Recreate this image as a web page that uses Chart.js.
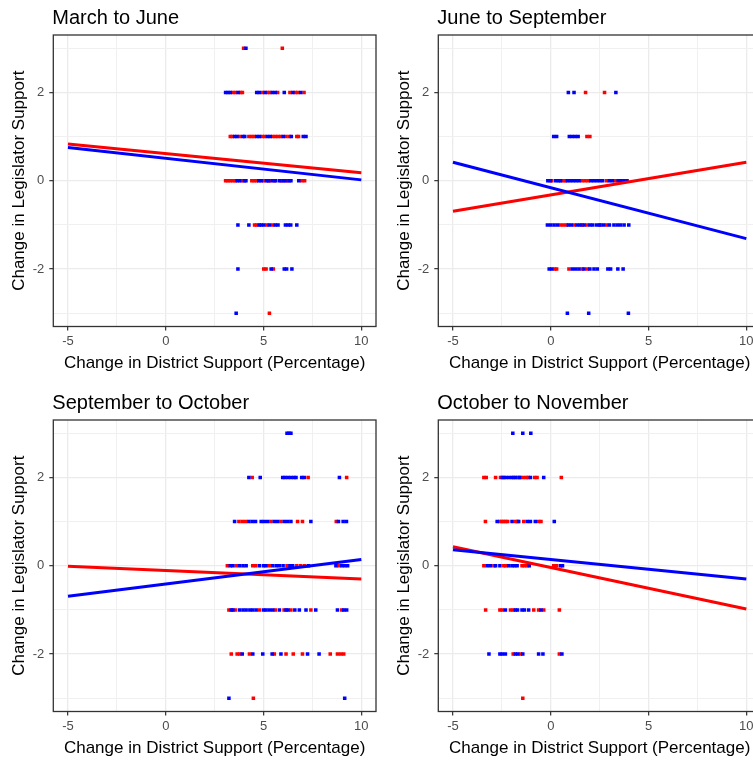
<!DOCTYPE html>
<html>
<head>
<meta charset="utf-8">
<script src="https://cdn.jsdelivr.net/npm/chart.js@4/dist/chart.umd.min.js"></script>
<style>
  html, body { margin: 0; padding: 0; background: #fff; overflow: hidden; width: 753px; height: 761px; }
  canvas { position: absolute; }
</style>
</head>
<body>
<canvas id="c1" width="380" height="380" style="left:0px;top:0px"></canvas>
<canvas id="c2" width="380" height="380" style="left:385px;top:0px"></canvas>
<canvas id="c3" width="380" height="380" style="left:0px;top:385px"></canvas>
<canvas id="c4" width="380" height="380" style="left:385px;top:385px"></canvas>
<script>
// rows of points, one list of x values per level of legislator change
const levels = [3, 2, 1, 0, -1, -2, -3];

const marJunRed = [
  [3.98, 5.96],
  [3.43, 3.57, 3.82, 3.92, 4.95, 5.2, 5.32, 5.72, 6.35, 6.62, 6.75, 7.07],
  [3.3, 3.4, 3.77, 4.25, 4.39, 4.52, 4.93, 5.06, 5.47, 5.61, 5.74, 5.88, 6.15, 6.32, 6.7, 6.79],
  [3.06, 3.18, 3.3, 3.43, 3.55, 3.9, 4.4, 4.52, 4.64, 5.0, 5.3, 5.55, 5.9, 6.2, 6.95, 7.1],
  [4.54, 4.65, 5.17, 5.47],
  [5.01, 5.13, 5.5],
  [5.3]
];
const marJunBlue = [
  [4.1],
  [3.06, 3.18, 3.3, 3.7, 4.65, 4.78, 5.08, 5.45, 5.6, 6.06, 6.5, 6.9],
  [3.52, 3.64, 3.94, 4.04, 4.66, 4.79, 5.2, 5.34, 6.01, 6.42, 7.03, 7.17],
  [3.65, 3.78, 4.02, 4.1, 4.76, 4.88, 5.15, 5.25, 5.44, 5.62, 5.82, 6.0, 6.1, 6.3, 6.4, 6.8],
  [3.69, 4.25, 4.78, 4.88, 5.01, 5.3, 5.6, 5.74, 6.12, 6.26, 6.39, 6.7],
  [3.69, 5.39, 6.06, 6.18, 6.45],
  [3.6]
];

const junSepRed = [
  [],
  [1.78, 2.75],
  [1.85, 2.0],
  [0.05, 0.62, 0.75, 1.6, 1.75, 1.9, 2.85, 3.3],
  [0.5, 0.65, 0.8, 1.2, 1.6, 1.85, 2.55, 2.85],
  [0.2, 0.3, 0.93, 1.6, 1.87],
  []
];
const junSepBlue = [
  [],
  [0.9, 1.19, 3.33],
  [0.15, 0.3, 0.95, 1.1, 1.25, 1.4],
  [-0.15, -0.02, 0.25, 0.4, 0.5, 0.85, 1.0, 1.15, 1.3, 1.45, 2.05, 2.2, 2.35, 2.5, 2.65, 3.0, 3.15, 3.45, 3.6, 3.75, 3.9],
  [-0.17, 0.0, 0.17, 0.34, 0.9, 1.05, 1.35, 1.5, 1.7, 2.0, 2.15, 2.35, 2.5, 2.7, 3.0, 3.23, 3.4, 3.57, 3.75, 3.99],
  [-0.08, 0.05, 1.1, 1.27, 1.44, 1.7, 2.0, 2.21, 2.38, 2.92, 3.06, 3.43, 3.7],
  [0.85, 1.94, 3.97]
];

const sepOctRed = [
  [],
  [4.42, 7.28, 9.25],
  [3.74, 3.91, 4.08, 5.38, 5.89, 6.74, 6.99, 8.72],
  [3.15, 3.6, 4.45, 4.6, 5.3, 6.2, 6.7, 6.9, 7.1, 8.85],
  [3.23, 3.55, 4.79, 5.6, 6.05, 6.4, 7.42, 9.0],
  [3.35, 3.65, 3.78, 4.28, 5.55, 6.15, 6.52, 6.99, 8.41, 8.78, 8.95, 9.1],
  [4.48]
];
const sepOctBlue = [
  [6.2, 6.3, 6.4],
  [4.25, 4.83, 5.98, 6.1, 6.25, 6.4, 6.55, 6.66, 6.95, 7.08, 8.88],
  [3.52, 4.25, 4.42, 4.59, 4.88, 5.04, 5.21, 5.55, 5.72, 6.06, 6.23, 6.4, 7.42, 8.83, 9.07, 9.24],
  [3.3, 3.43, 3.77, 3.95, 4.11, 4.79, 5.0, 5.13, 5.47, 5.65, 5.81, 6.0, 6.35, 6.49, 7.3, 8.7, 9.0, 9.15, 9.3],
  [3.35, 3.43, 3.77, 3.95, 4.11, 4.3, 4.45, 4.62, 5.0, 5.13, 5.3, 5.47, 5.81, 6.15, 6.25, 6.6, 6.83, 7.17, 7.67, 8.78, 9.1, 9.25],
  [3.91, 4.45, 4.96, 5.44, 5.89, 7.25, 7.84],
  [3.23, 9.15]
];

const octNovRed = [
  [],
  [-3.42, -3.3, -2.82, -2.57, -2.4, -1.7, -1.55, -1.4, -1.25, -1.15, -0.82, -0.7, 0.54],
  [-3.34, -2.6, -2.5, -2.4, -2.3, -2.2, -1.81, -1.7, -1.38, -0.62, -0.5],
  [-3.42, -2.9, -2.4, -2.3, -1.47, -1.35, -1.21, 0.15, 0.3],
  [-3.33, -2.6, -2.48, -2.06, -1.92, -0.87, -0.62, -0.36, 0.44],
  [-1.92, -1.55, 0.44],
  [-1.43]
];
const octNovBlue = [
  [-1.94, -1.43, -1.02],
  [-2.48, -2.3, -2.15, -2.0, -1.9, -1.8, -1.6, -1.04, -0.36],
  [-2.74, -1.98, -1.64, -1.2, -1.04, -0.79, 0.18],
  [-3.25, -3.08, -2.82, -2.6, -2.15, -1.98, -1.85, -1.72, -1.1, 0.5, 0.6],
  [-2.32, -1.81, -1.7, -1.47, -1.35, -1.13, -0.5],
  [-3.16, -2.6, -2.48, -2.32, -1.81, -1.69, -1.43, -0.62, -0.4, 0.57],
  []
];

// fitted lines: y at x = -5 and x = 10
const lineX = [-5, 10];
const marJunRedLine = [0.83, 0.18];
const marJunBlueLine = [0.755, 0.02];
const junSepRedLine = [-0.69, 0.42];
const junSepBlueLine = [0.42, -1.31];
const sepOctRedLine = [-0.01, -0.30];
const sepOctBlueLine = [-0.69, 0.14];
const octNovRedLine = [0.43, -0.98];
const octNovBlueLine = [0.36, -0.30];

const xMajor = [-5, 0, 5, 10];
const xMinor = [-2.5, 2.5, 7.5];
const yMajor = [-2, 0, 2];
const yMinor = [-3, -1, 1, 3];

const FONT = '"Liberation Sans", Arial, sans-serif';
Chart.defaults.font.family = FONT;

function toPoints(rows) {
  return rows.flatMap((xs, i) => xs.map(x => ({ x: x, y: levels[i] })));
}

function isMajor(majors, c) {
  return c.tick && majors.includes(c.tick.value);
}

function gridOpts(majors) {
  return {
    color: c => isMajor(majors, c) ? '#ebebeb' : '#f0f0f0',
    lineWidth: c => isMajor(majors, c) ? 1.3 : 1,
    tickColor: c => isMajor(majors, c) ? '#333333' : 'rgba(0,0,0,0)',
    tickLength: 4,
    tickWidth: 1.2
  };
}

// panel border and panel title, ggplot style
const panelFrame = {
  id: 'panelFrame',
  afterDraw(chart, args, opts) {
    const { ctx, chartArea: a } = chart;
    ctx.save();
    ctx.strokeStyle = '#333333';
    ctx.lineWidth = 1.3;
    ctx.strokeRect(a.left, a.top, a.right - a.left, a.bottom - a.top);
    ctx.fillStyle = '#000';
    ctx.font = '20px ' + FONT;
    ctx.textBaseline = 'alphabetic';
    ctx.fillText(opts.title, a.left - 1, 23.5);
    ctx.restore();
  }
};

function makePanel(id, title, red, blue, redLine, blueLine) {
  new Chart(document.getElementById(id), {
    type: 'scatter',
    data: {
      datasets: [
        { data: lineX.map((x, i) => ({ x: x, y: blueLine[i] })), showLine: true,
          borderColor: '#0000ff', borderWidth: 3, pointRadius: 0 },
        { data: lineX.map((x, i) => ({ x: x, y: redLine[i] })), showLine: true,
          borderColor: '#ff0000', borderWidth: 3, pointRadius: 0 },
        { data: toPoints(blue), backgroundColor: '#0000ff', pointStyle: 'rect',
          pointRadius: 2.5, borderWidth: 0 },
        { data: toPoints(red), backgroundColor: '#ff0000', pointStyle: 'rect',
          pointRadius: 2.5, borderWidth: 0 }
      ]
    },
    options: {
      responsive: false,
      animation: false,
      devicePixelRatio: 1,
      layout: { padding: { top: 35, right: 2.3, left: 0, bottom: 0 } },
      plugins: {
        legend: { display: false },
        tooltip: { enabled: false },
        panelFrame: { title: title }
      },
      scales: {
        x: {
          type: 'linear', min: -5.75, max: 10.75,
          afterBuildTicks: s => { s.ticks = [...xMajor, ...xMinor].sort((a, b) => a - b).map(v => ({ value: v })); },
          afterFit: s => { s.height = 53.5; },
          ticks: { callback: v => xMajor.includes(v) ? String(v) : '', color: '#4d4d4d',
                   font: { size: 13 }, padding: 3, autoSkip: false, maxRotation: 0 },
          grid: gridOpts(xMajor),
          border: { display: false },
          title: { display: true, text: 'Change in District Support (Percentage)', color: '#000',
                   font: { size: 17, lineHeight: 1.2 }, padding: { top: 0, bottom: 6 } }
        },
        y: {
          type: 'linear', min: -3.3, max: 3.3,
          afterBuildTicks: s => { s.ticks = [...yMajor, ...yMinor].sort((a, b) => a - b).map(v => ({ value: v })); },
          afterFit: s => { s.width = 53.3; },
          ticks: { callback: v => yMajor.includes(v) ? String(v) : '', color: '#4d4d4d',
                   font: { size: 13 }, padding: 5, autoSkip: false },
          grid: gridOpts(yMajor),
          border: { display: false },
          title: { display: true, text: 'Change in Legislator Support', color: '#000',
                   font: { size: 17, lineHeight: 1.2 }, padding: { top: 9, bottom: 0 } }
        }
      }
    },
    plugins: [panelFrame]
  });
}

makePanel('c1', 'March to June', marJunRed, marJunBlue, marJunRedLine, marJunBlueLine);
makePanel('c2', 'June to September', junSepRed, junSepBlue, junSepRedLine, junSepBlueLine);
makePanel('c3', 'September to October', sepOctRed, sepOctBlue, sepOctRedLine, sepOctBlueLine);
makePanel('c4', 'October to November', octNovRed, octNovBlue, octNovRedLine, octNovBlueLine);
</script>
</body>
</html>
